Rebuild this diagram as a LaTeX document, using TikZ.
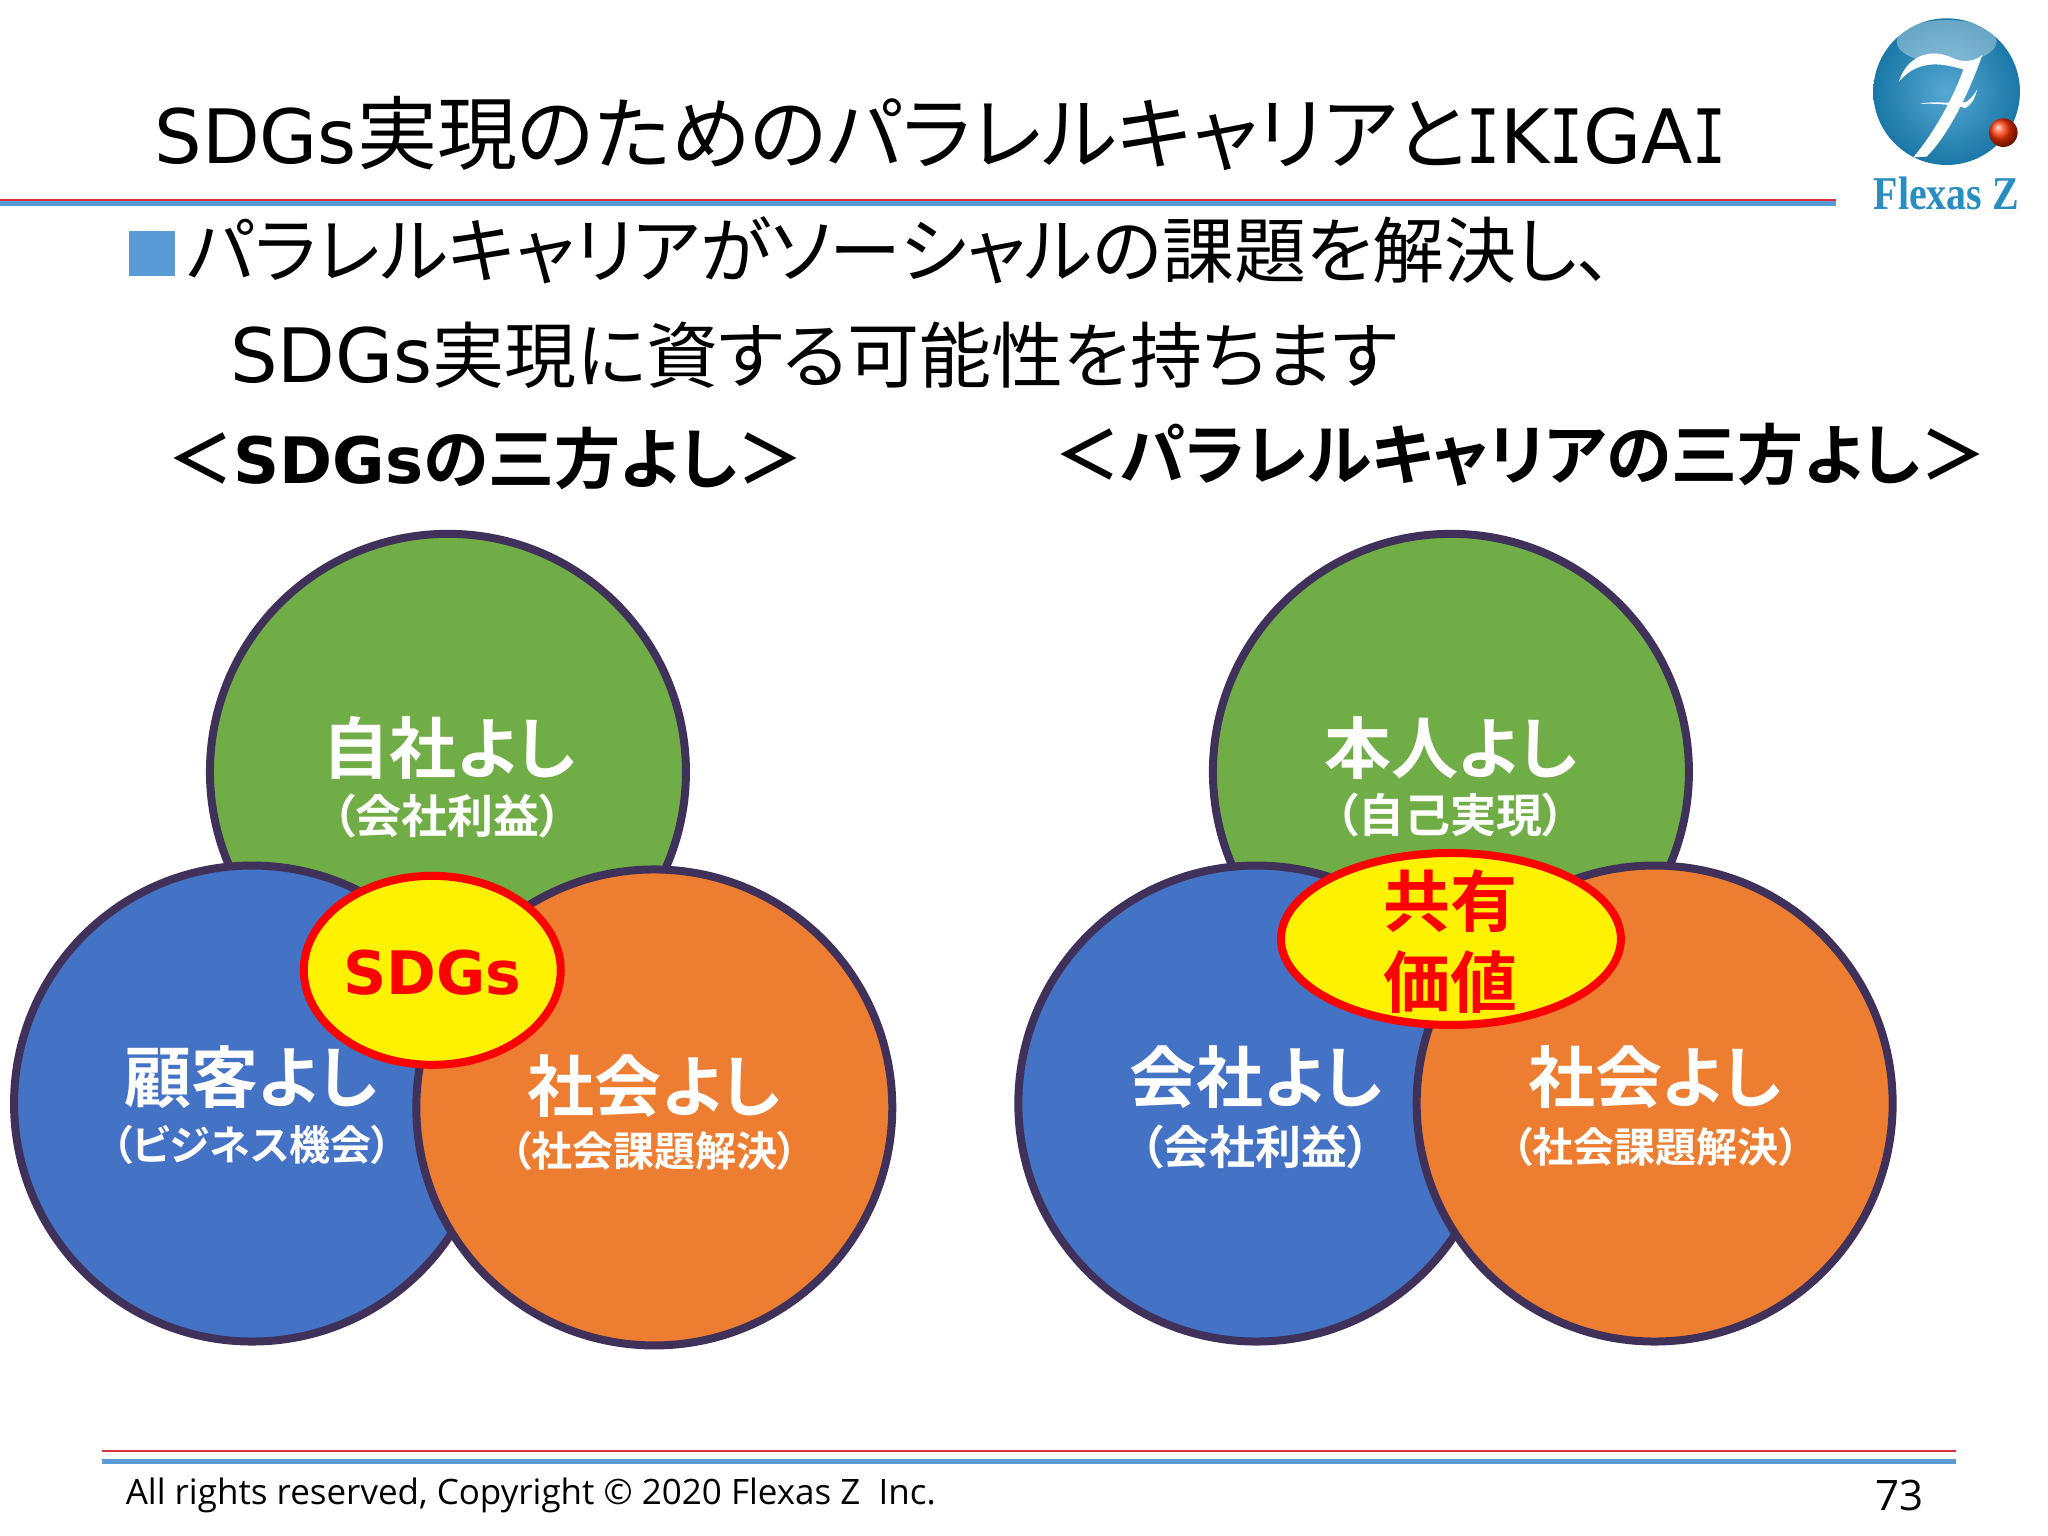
\documentclass[tikz,border=0pt]{standalone}
\usepackage{fontspec}
\setmainfont{Noto Sans CJK JP}[BoldFont={Noto Sans CJK JP Bold},RawFeature=+palt]
\newfontfamily\lat{DejaVu Sans}
\newfontfamily\monoI{DejaVu Sans Mono}
\newfontfamily\foot{Open Sans}
\newfontfamily\logofont{Liberation Serif}
\newcommand{\fsz}[1]{\fontsize{#1}{#1}\selectfont}
\newcommand{\serI}{\scalebox{0.75}[1]{\monoI I}}
\definecolor{bgreen}{HTML}{70AD47}
\definecolor{bblue}{HTML}{4472C4}
\definecolor{borange}{HTML}{ED7D31}
\definecolor{ringc}{HTML}{3F3159}
\definecolor{rulered}{HTML}{D9303A}
\definecolor{ruleblue}{HTML}{5B9BD5}
\definecolor{logoteal}{HTML}{1E8CC4}
\definecolor{logotext}{HTML}{2A8DBF}
\usetikzlibrary{shapes.geometric}
\tikzset{
  ball/.style={circle,draw=ringc,line width=4pt,minimum size=238pt,inner sep=0pt},
  spot/.style={ellipse,draw=red,line width=4pt,fill=yellow,inner sep=0pt},
  big/.style={text=white,font=\bfseries\fsz{33.5}},
  small/.style={text=white,font=\bfseries\fsz{23}},
  smaller/.style={text=white,font=\bfseries\fsz{20.5}},
  head/.style={text=black,font=\bfseries\fsz{33},anchor=west,inner sep=0pt},
  line/.style={text=black,font=\fsz{36},anchor=west,inner sep=0pt},
}
\begin{document}
\begin{tikzpicture}[x=0.653pt,y=-0.653pt]
\useasboundingbox (0,0) rectangle (1568.2,1176.1);
% title
\node[line,font=\fsz{40}] (title) at (118,102) {{\lat\fsz{37.5}SDGs}実現のためのパラレルキャリアと{\lat\fsz{37.5}\serI K\serI GA\serI}};
\fill[rulered] (0,152.4) rectangle (1406,153.9);
\fill[ruleblue] (0,154.2) rectangle (1406,157.7);
% logo
\begin{scope}[shift={(875pt,0pt)},x=0.16667pt,y=-0.16667pt]
\shade[inner color=logoteal!75!white,outer color=logoteal!85!black] (590,275) circle (220);
\fill[white,opacity=.35] (590,125) ellipse (150 and 65);
\fill[white] (447,245) .. controls (470,170) and (540,140) .. (610,175) .. controls (640,188) and (675,185) .. (697,165)
  .. controls (660,270) and (600,400) .. (530,470) -- (490,472) .. controls (560,390) and (620,270) .. (640,208)
  .. controls (590,195) and (510,170) .. (447,245) -- cycle;
\fill[white] (510,312) .. controls (550,300) and (620,315) .. (650,305) .. controls (665,295) and (675,280) .. (682,268)
  .. controls (675,295) and (665,315) .. (645,325) .. controls (640,318) and (560,308) .. (510,312) -- cycle;
\shade[ball color=red!60!orange] (760,398) circle (43);
\node[inner sep=0pt,anchor=base,text=logotext] (brand) at (589,628) {\scalebox{0.85}[1]{\logofont\bfseries\fsz{23.5}Flexas Z}};
\end{scope}
% body
\fill[ruleblue] (99,177) rectangle (134,211);
\node[line] (l1) at (143,192) {パラレルキャリアがソーシャルの課題を解決し、};
\node[line] (l2) at (176,272) {{\lat\fsz{37.5}SDGs}実現に資する可能性を持ちます};
\node[head] (hl) at (128,351) {＜{\lat\bfseries\fsz{32}SDGs}の三方よし＞};
\node[head] (hr) at (807,348) {＜パラレルキャリアの三方よし＞};
% left venn
\node[ball,fill=bgreen] (g1) at (343,591) {};
\node[ball,fill=bblue] (b1) at (193,845) {};
\node[ball,fill=borange] (o1) at (501,848) {};
\node[spot,minimum width=128.5pt,minimum height=94.5pt] (s1) at (331,743) {};
\node[text=red,font=\lat\bfseries\fsz{30}] (st1) at (331,745) {SDGs};
\node[big] (g1a) at (344,573) {自社よし};
\node[small] (g1b) at (343,625) {（会社利益）};
\node[big] (b1a) at (192,825) {顧客よし};
\node[smaller] (b1b) at (193,877) {（ビジネス機会）};
\node[big] (o1a) at (501,832) {社会よし};
\node[smaller] (o1b) at (501,881) {（社会課題解決）};
% right venn
\node[ball,fill=bgreen] (g2) at (1111,591) {};
\node[ball,fill=bblue] (b2) at (962,845) {};
\node[ball,fill=borange] (o2) at (1267,845) {};
\node[spot,minimum width=170pt,minimum height=86pt] (s2) at (1111,719) {};
\node[text=red,font=\bfseries\fsz{33.5}] (st2a) at (1111,690) {共有};
\node[text=red,font=\bfseries\fsz{33.5}] (st2b) at (1111,752) {価値};
\node[big] (g2a) at (1111,573) {本人よし};
\node[small] (g2b) at (1111,624) {（自己実現）};
\node[big] (b2a) at (962,825) {会社よし};
\node[small] (b2b) at (961,878) {（会社利益）};
\node[big] (o2a) at (1267,825) {社会よし};
\node[smaller] (o2b) at (1268,878) {（社会課題解決）};
% footer
\fill[rulered] (78,1110.3) rectangle (1498,1111.8);
\fill[ruleblue] (78,1117.2) rectangle (1498,1121);
\node[anchor=west,inner sep=0pt,font=\foot\fsz{17.5}] (fl) at (96,1145) {All rights reserved, Copyright © 2020 Flexas Z\ \ Inc.};
\node[anchor=east,inner sep=0pt,font=\foot\fsz{21}] (fr) at (1473,1145) {73};
\end{tikzpicture}
\end{document}
